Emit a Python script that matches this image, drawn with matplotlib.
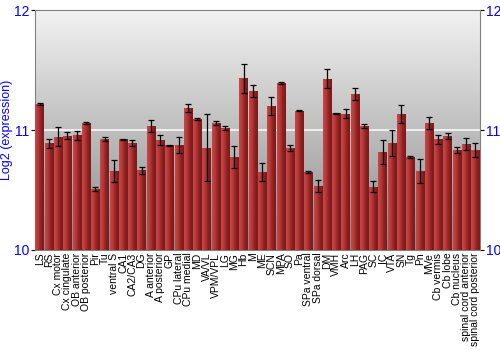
import numpy as np
import matplotlib
matplotlib.use("Agg")
import matplotlib.pyplot as plt
from matplotlib.colors import LinearSegmentedColormap

plt.rcParams['font.family'] = ['Liberation Sans', 'DejaVu Sans']

# regiones y valores (log2)
regions = ["LS", "RS", "Cx motor", "Cx cingulate", "OB anterior", "OB posterior",
           "Pir", "Tu", "ventral S", "CA1", "CA2/CA3", "DG", "A anterior",
           "A posterior", "GP", "CPu lateral", "CPu medial", "MD", "VA/VL",
           "VPM/VPL", "LG", "MG", "Hb", "M", "ME", "SCN", "MPA", "SO", "Pa",
           "SPa ventral", "SPa dorsal", "DM", "VMH", "Arc", "LH", "PAG", "SC",
           "IC", "VTA", "SN", "Tg", "Pn", "MVe", "Cb vermis", "Cb lobe",
           "Cb nucleus", "spinal cord anterior", "spinal cord posterior"]
values = [11.217, 10.889, 10.944, 10.953, 10.956, 11.061,
          10.506, 10.925, 10.658, 10.922, 10.894, 10.664, 11.031,
          10.917, 10.872, 10.875, 11.181, 11.092, 10.853,
          11.058, 11.017, 10.775, 11.433, 11.325, 10.647, 11.200, 11.392, 10.853, 11.161,
          10.650, 10.533, 11.428, 11.139, 11.136, 11.300, 11.036, 10.528,
          10.817, 10.892, 11.136, 10.772, 10.661, 11.058, 10.922, 10.950,
          10.831, 10.881, 10.833]
errors = [0.005, 0.040, 0.080, 0.030, 0.040, 0.010,
          0.015, 0.020, 0.090, 0.004, 0.025, 0.030, 0.050,
          0.045, 0.005, 0.070, 0.033, 0.008, 0.280,
          0.020, 0.017, 0.090, 0.120, 0.050, 0.075, 0.078, 0.005, 0.025, 0.005,
          0.005, 0.047, 0.080, 0.005, 0.036, 0.050, 0.018, 0.047,
          0.100, 0.110, 0.075, 0.008, 0.100, 0.050, 0.037, 0.022,
          0.025, 0.050, 0.055]

fig = plt.figure(figsize=(5, 3.5), dpi=100)
ax = fig.add_axes([0.07, 0.286, 0.89, 0.685])

x = np.arange(len(regions))
bars = ax.bar(x, values, width=0.9, bottom=0, color="#b03030", zorder=2)
ax.errorbar(x, values, yerr=errors, fmt="none", ecolor="black",
            elinewidth=0.9, capsize=2, capthick=0.9, zorder=4)

ax.set_xlim(-0.5, len(regions) - 0.5)
ax.set_ylim(10, 12)

# fondo degradado gris
bg = LinearSegmentedColormap.from_list("bg", ["#8a8a8a", "#f2f2f2"])
ax.imshow(np.linspace(0, 1, 256).reshape(-1, 1), cmap=bg, aspect="auto",
          extent=[-0.5, len(regions) - 0.5, 10, 12], origin="lower", zorder=0)

# degradado horizontal en cada barra
barmap = LinearSegmentedColormap.from_list("bar", ["#c64848", "#b83838", "#8c2222", "#7a1a1a"])
grad = np.linspace(0, 1, 64).reshape(1, -1)
for b in bars:
    im = ax.imshow(grad, cmap=barmap, aspect="auto", zorder=3,
                   extent=[b.get_x(), b.get_x() + b.get_width(), 10, b.get_height()])
    im.set_clip_path(b)

ax.axhline(11, color="#eeeeee", lw=1.5, zorder=1)

ax.set_xticks(x)
ax.set_xticklabels(regions, rotation=90, fontsize=7.5)
ax.tick_params(axis="x", length=0, pad=2)
ax.set_yticks([10, 11, 12])
ax.tick_params(axis="y", colors="black", labelcolor="blue", labelsize=10,
               length=3, pad=1, right=True, labelright=True)
ax.set_ylabel("Log2 (expression)", color="blue", fontsize=9, labelpad=1)
for s in ax.spines.values():
    s.set_color("#808080")

fig.savefig("out.png", dpi=100)
